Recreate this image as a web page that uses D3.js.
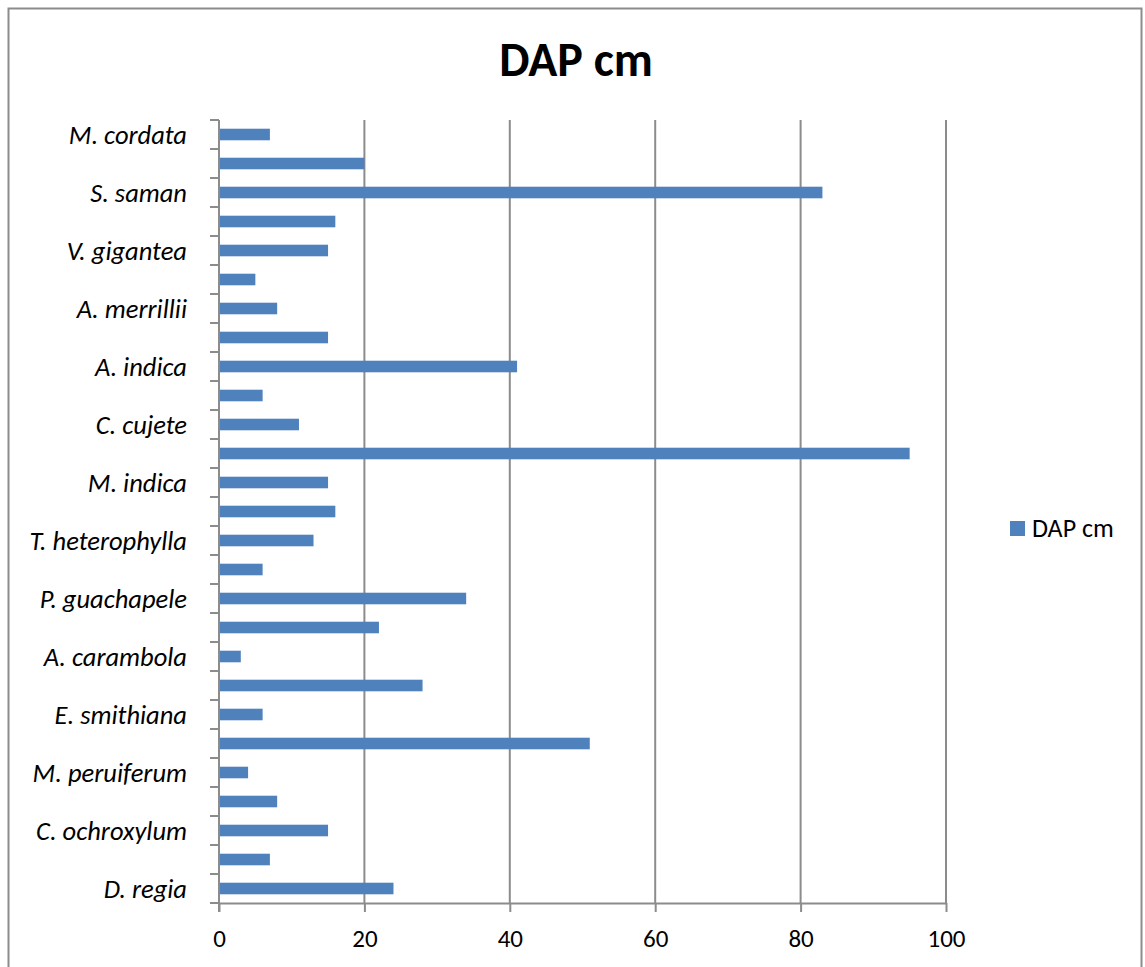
<!DOCTYPE html>
<html>
<head>
<meta charset="utf-8">
<script src="https://cdn.jsdelivr.net/npm/d3@7"></script>
<style>
  body { margin: 0; background: #fff; }
  svg { display: block; font-family: Carlito, Calibri, "Liberation Sans", Arial, sans-serif; }
</style>
</head>
<body>
<div id="chart"></div>
<script>
// categories top to bottom; unlabeled rows in the original are left blank
var species = ["M. cordata", "", "S. saman", "", "V. gigantea", "", "A. merrillii", "",
  "A. indica", "", "C. cujete", "", "M. indica", "", "T. heterophylla", "", "P. guachapele", "",
  "A. carambola", "", "E. smithiana", "", "M. peruiferum", "", "C. ochroxylum", "", "D. regia"];
var dapCm = [7, 20, 83, 16, 15, 5, 8, 15, 41, 6, 11, 95, 15, 16, 13, 6, 34, 22, 3, 28, 6, 51, 4, 8, 15, 7, 24];
var xTicks = [0, 20, 40, 60, 80, 100];
var seriesName = "DAP cm";

var W = 1145, H = 967;
var plotL = 219, plotT = 120, plotR = 946, plotB = 903;

var svg = d3.select("#chart").append("svg").attr("width", W).attr("height", H);

svg.append("rect").attr("x", 8.5).attr("y", 8.5).attr("width", 1133).attr("height", H)
  .attr("fill", "#fff").attr("stroke", "#8c8c8c").attr("stroke-width", 2);

var x = d3.scaleLinear().domain([0, 100]).range([plotL, plotR]);
var y = d3.scaleBand().domain(d3.range(species.length)).range([plotT, plotB]).paddingInner(0.6).paddingOuter(0.3);

// gridlines
svg.append("g").selectAll("line").data(xTicks.slice(1)).enter().append("line")
  .attr("x1", d => x(d)).attr("x2", d => x(d)).attr("y1", plotT).attr("y2", plotB)
  .attr("stroke", "#8c8c8c").attr("stroke-width", 2);

svg.append("g").selectAll("rect").data(dapCm).enter().append("rect")
  .attr("x", x(0)).attr("y", (d, i) => y(i)).attr("width", d => x(d) - x(0))
  .attr("height", y.bandwidth()).attr("fill", "#4f81bd");

// x axis
var xAxis = svg.append("g").attr("transform", "translate(0," + plotB + ")")
  .call(d3.axisBottom(x).tickValues(xTicks).tickSize(9).tickPadding(17).tickSizeOuter(0))
  .attr("font-family", null).attr("font-size", null);
xAxis.select(".domain").attr("stroke", "#8c8c8c").attr("stroke-width", 2);
xAxis.selectAll(".tick line").attr("stroke", "#8c8c8c").attr("stroke-width", 2);
xAxis.selectAll("text").attr("font-size", 25).attr("fill", "#000");

// y axis with ticks at category boundaries
var step = (plotB - plotT) / species.length;
var yAxis = svg.append("g");
yAxis.append("line").attr("x1", plotL).attr("x2", plotL).attr("y1", plotT).attr("y2", plotB + 9)
  .attr("stroke", "#8c8c8c").attr("stroke-width", 2);
yAxis.selectAll("line.tk").data(d3.range(species.length + 1)).enter().append("line").attr("class", "tk")
  .attr("x1", plotL - 9).attr("x2", plotL).attr("y1", i => plotT + i * step).attr("y2", i => plotT + i * step)
  .attr("stroke", "#8c8c8c").attr("stroke-width", 2);
yAxis.selectAll("text").data(species).enter().append("text")
  .attr("x", 187).attr("y", (d, i) => y(i) + y.bandwidth() / 2).attr("dy", "0.35em")
  .attr("text-anchor", "end").attr("font-style", "italic").attr("font-size", 26.5)
  .text(d => d);

svg.append("text").attr("x", 576).attr("y", 76).attr("text-anchor", "middle")
  .attr("font-weight", "bold").attr("font-size", 48).text(seriesName);

// legend
svg.append("rect").attr("x", 1010).attr("y", 521).attr("width", 15).attr("height", 15).attr("fill", "#4f81bd");
svg.append("text").attr("x", 1032).attr("y", 537).attr("font-size", 26).text(seriesName);
</script>
</body>
</html>
